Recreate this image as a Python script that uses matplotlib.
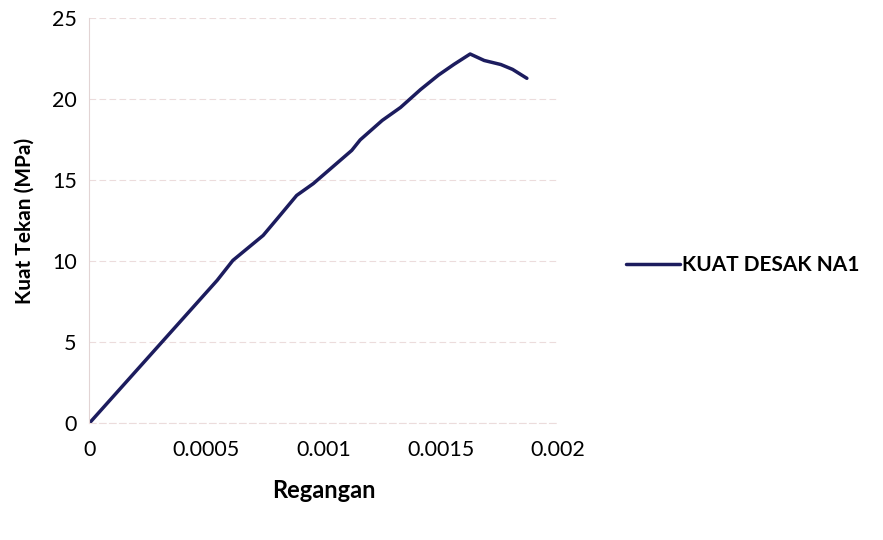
import matplotlib.pyplot as plt

# strain / stress curve
regangan = [0, 0.000546, 0.000613, 0.000742, 0.000806, 0.000885, 0.000956,
            0.00112, 0.001156, 0.00125, 0.001328, 0.001413, 0.00149,
            0.001556, 0.001625, 0.001685, 0.001756, 0.001806, 0.001867]
kuat_tekan = [0, 8.83, 10.06, 11.6, 12.7, 14.07, 14.8,
              16.85, 17.5, 18.7, 19.5, 20.6, 21.5,
              22.16, 22.8, 22.4, 22.15, 21.85, 21.3]
x_ticks = [0, 0.0005, 0.001, 0.0015, 0.002]
x_labels = ['0', '0.0005', '0.001', '0.0015', '0.002']
y_ticks = [0, 5, 10, 15, 20, 25]
series_name = 'KUAT DESAK NA1'

plt.rcParams['font.family'] = ['Lato', 'DejaVu Sans']

fig = plt.figure(figsize=(8.83, 5.4), dpi=100)
ax = fig.add_axes([0.101, 0.216, 0.531, 0.75])

ax.plot(regangan, kuat_tekan, color='#1c1c5e', linewidth=2.5,
        solid_capstyle='round', solid_joinstyle='round', label=series_name)

ax.set_xlim(0, 0.002)
ax.set_ylim(0, 25)
ax.set_xticks(x_ticks)
ax.set_xticklabels(x_labels)
ax.set_yticks(y_ticks)
ax.tick_params(length=0, labelsize=15.5)
ax.tick_params(axis='x', pad=12)
ax.tick_params(axis='y', pad=9)
ax.yaxis.grid(True, color='#ecdcdc', linewidth=0.8, linestyle=(0, (6, 3)))
ax.set_axisbelow(True)
for side in ['top', 'right']:
    ax.spines[side].set_visible(False)
ax.spines['left'].set_color('#e2d4d4')
ax.spines['bottom'].set_color('#ecdcdc')
ax.spines['bottom'].set_linestyle((0, (6, 3)))

ax.set_xlabel('Regangan', fontsize=17, fontweight='bold', labelpad=14)
ax.set_ylabel('Kuat Tekan (MPa)', fontsize=15, fontweight='bold', labelpad=12)

ax.legend(loc='center left', bbox_to_anchor=(1.105, 0.39), frameon=False,
          prop={'weight': 'bold', 'size': 15},
          handlelength=2.6, handletextpad=0.1)

fig.savefig('out.png', dpi=100)
